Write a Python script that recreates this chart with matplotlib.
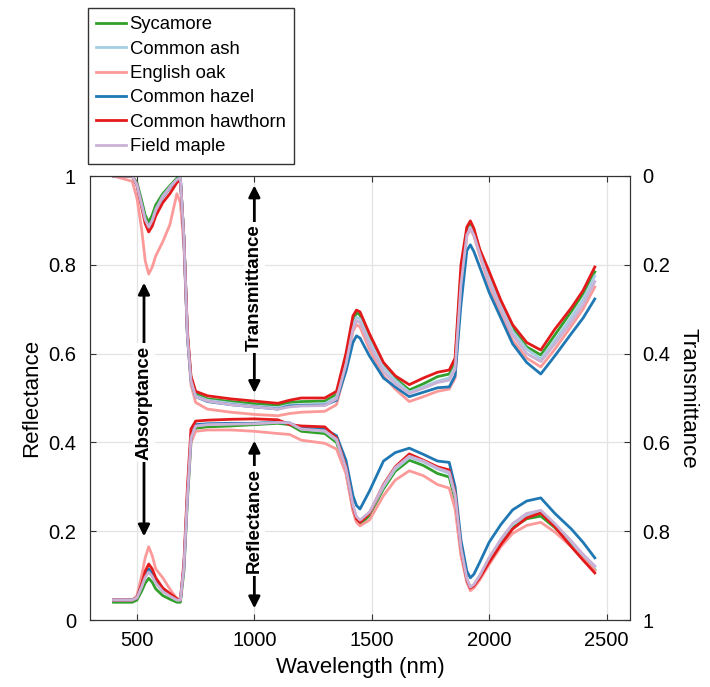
"""Reflectance and transmittance spectra of six tree species."""
import matplotlib
matplotlib.use('Agg')
import matplotlib.pyplot as plt

plt.rcParams['font.family'] = ['Liberation Sans', 'DejaVu Sans']

# wavelength samples (nm)
wavelength = [400, 480, 500, 520, 535, 550, 565, 580, 610, 640,
              670, 685, 700, 715, 730, 750, 800, 900, 1000, 1100,
              1150, 1200, 1300, 1350, 1390, 1420, 1435, 1450, 1490, 1550,
              1600, 1660, 1720, 1780, 1830, 1855, 1880, 1905, 1920, 1935,
              1960, 2000, 2050, 2100, 2160, 2220, 2280, 2350, 2400, 2450]

species = ['Sycamore', 'Common ash', 'English oak', 'Common hazel',
           'Common hawthorn', 'Field maple']
colors = ['#33a02c', '#a6cee3', '#fb9a99', '#1f78b4', '#e31a1c', '#cab2d6']

refl_sycamore = [0.040, 0.040, 0.045, 0.065, 0.083, 0.094, 0.085, 0.070, 0.055, 0.047,
                 0.040, 0.040, 0.110, 0.270, 0.400, 0.432, 0.435, 0.437, 0.440, 0.443,
                 0.440, 0.425, 0.420, 0.400, 0.335, 0.250, 0.222, 0.215, 0.235, 0.295,
                 0.335, 0.360, 0.348, 0.330, 0.322, 0.270, 0.155, 0.090, 0.072, 0.078,
                 0.097, 0.135, 0.175, 0.208, 0.228, 0.234, 0.208, 0.170, 0.140, 0.113]
refl_ash = [0.045, 0.045, 0.050, 0.075, 0.098, 0.110, 0.100, 0.085, 0.065, 0.055,
            0.045, 0.045, 0.120, 0.280, 0.410, 0.438, 0.440, 0.442, 0.443, 0.446,
            0.445, 0.430, 0.425, 0.405, 0.340, 0.255, 0.230, 0.222, 0.240, 0.300,
            0.340, 0.366, 0.356, 0.340, 0.330, 0.280, 0.160, 0.092, 0.073, 0.079,
            0.100, 0.140, 0.180, 0.215, 0.237, 0.245, 0.215, 0.175, 0.145, 0.120]
refl_oak = [0.045, 0.045, 0.055, 0.100, 0.140, 0.165, 0.145, 0.115, 0.095, 0.070,
            0.048, 0.045, 0.120, 0.280, 0.400, 0.425, 0.428, 0.428, 0.425, 0.420,
            0.418, 0.405, 0.398, 0.385, 0.330, 0.245, 0.220, 0.212, 0.225, 0.280,
            0.315, 0.336, 0.325, 0.305, 0.297, 0.250, 0.145, 0.085, 0.066, 0.072,
            0.090, 0.125, 0.165, 0.195, 0.213, 0.220, 0.198, 0.165, 0.138, 0.112]
refl_hazel = [0.045, 0.045, 0.050, 0.080, 0.103, 0.115, 0.105, 0.088, 0.068, 0.057,
              0.047, 0.045, 0.120, 0.280, 0.410, 0.440, 0.442, 0.443, 0.443, 0.445,
              0.443, 0.432, 0.430, 0.415, 0.360, 0.280, 0.258, 0.250, 0.290, 0.358,
              0.377, 0.387, 0.373, 0.358, 0.355, 0.300, 0.180, 0.110, 0.095, 0.103,
              0.130, 0.175, 0.215, 0.248, 0.268, 0.275, 0.240, 0.205, 0.175, 0.140]
refl_hawthorn = [0.045, 0.045, 0.050, 0.080, 0.110, 0.126, 0.115, 0.095, 0.072, 0.060,
                 0.048, 0.045, 0.130, 0.300, 0.430, 0.448, 0.450, 0.452, 0.453, 0.451,
                 0.440, 0.437, 0.435, 0.410, 0.345, 0.255, 0.228, 0.220, 0.240, 0.305,
                 0.345, 0.374, 0.360, 0.345, 0.338, 0.285, 0.160, 0.090, 0.072, 0.077,
                 0.095, 0.130, 0.170, 0.205, 0.230, 0.241, 0.210, 0.165, 0.135, 0.106]
refl_maple = [0.045, 0.045, 0.050, 0.075, 0.096, 0.108, 0.098, 0.083, 0.064, 0.054,
              0.045, 0.045, 0.120, 0.280, 0.410, 0.437, 0.440, 0.441, 0.442, 0.445,
              0.444, 0.430, 0.426, 0.407, 0.342, 0.258, 0.233, 0.225, 0.243, 0.303,
              0.343, 0.369, 0.358, 0.342, 0.333, 0.282, 0.162, 0.093, 0.074, 0.080,
              0.100, 0.140, 0.182, 0.217, 0.240, 0.247, 0.217, 0.178, 0.148, 0.122]

trans_sycamore = [0.000, 0.000, 0.015, 0.055, 0.088, 0.104, 0.088, 0.065, 0.040, 0.022,
                  0.005, 0.004, 0.140, 0.360, 0.455, 0.490, 0.502, 0.508, 0.513, 0.516,
                  0.510, 0.508, 0.507, 0.492, 0.410, 0.325, 0.308, 0.313, 0.360, 0.425,
                  0.455, 0.482, 0.468, 0.452, 0.446, 0.420, 0.220, 0.125, 0.110, 0.125,
                  0.168, 0.225, 0.285, 0.343, 0.385, 0.403, 0.358, 0.305, 0.265, 0.216]
trans_ash = [0.000, 0.000, 0.020, 0.065, 0.098, 0.115, 0.100, 0.075, 0.045, 0.025,
             0.008, 0.005, 0.140, 0.360, 0.460, 0.495, 0.505, 0.512, 0.518, 0.522,
             0.516, 0.515, 0.513, 0.498, 0.420, 0.335, 0.318, 0.322, 0.370, 0.430,
             0.460, 0.487, 0.475, 0.462, 0.455, 0.430, 0.240, 0.130, 0.115, 0.130,
             0.170, 0.230, 0.290, 0.350, 0.390, 0.412, 0.370, 0.318, 0.278, 0.225]
trans_oak = [0.000, 0.012, 0.050, 0.120, 0.190, 0.221, 0.205, 0.180, 0.148, 0.110,
             0.040, 0.060, 0.160, 0.360, 0.470, 0.510, 0.525, 0.532, 0.537, 0.540,
             0.535, 0.532, 0.530, 0.515, 0.435, 0.350, 0.335, 0.340, 0.390, 0.450,
             0.480, 0.508, 0.497, 0.485, 0.480, 0.455, 0.260, 0.135, 0.120, 0.135,
             0.180, 0.245, 0.310, 0.370, 0.410, 0.430, 0.390, 0.338, 0.300, 0.250]
trans_hazel = [0.000, 0.000, 0.020, 0.065, 0.098, 0.115, 0.100, 0.078, 0.048, 0.027,
               0.009, 0.006, 0.140, 0.360, 0.460, 0.497, 0.508, 0.515, 0.520, 0.525,
               0.518, 0.517, 0.516, 0.505, 0.440, 0.375, 0.360, 0.365, 0.405, 0.455,
               0.475, 0.497, 0.487, 0.477, 0.475, 0.450, 0.290, 0.168, 0.155, 0.170,
               0.205, 0.262, 0.320, 0.378, 0.420, 0.446, 0.405, 0.355, 0.320, 0.277]
trans_hawthorn = [0.000, 0.000, 0.020, 0.070, 0.107, 0.126, 0.113, 0.090, 0.060, 0.040,
                  0.015, 0.008, 0.140, 0.350, 0.450, 0.485, 0.495, 0.502, 0.507, 0.512,
                  0.505, 0.500, 0.500, 0.485, 0.400, 0.315, 0.302, 0.306, 0.355, 0.420,
                  0.450, 0.470, 0.455, 0.442, 0.437, 0.410, 0.200, 0.115, 0.101, 0.118,
                  0.165, 0.215, 0.280, 0.335, 0.375, 0.392, 0.345, 0.297, 0.258, 0.205]
trans_maple = [0.000, 0.000, 0.020, 0.065, 0.098, 0.115, 0.100, 0.077, 0.047, 0.026,
               0.008, 0.005, 0.140, 0.360, 0.460, 0.497, 0.507, 0.515, 0.520, 0.525,
               0.520, 0.518, 0.517, 0.502, 0.425, 0.345, 0.326, 0.330, 0.380, 0.440,
               0.468, 0.490, 0.478, 0.465, 0.460, 0.435, 0.245, 0.133, 0.118, 0.133,
               0.175, 0.238, 0.300, 0.358, 0.400, 0.418, 0.378, 0.328, 0.290, 0.238]

refl = [refl_sycamore, refl_ash, refl_oak, refl_hazel, refl_hawthorn, refl_maple]
trans = [trans_sycamore, trans_ash, trans_oak, trans_hazel, trans_hawthorn, trans_maple]

ticks_x = [500, 1000, 1500, 2000, 2500]
ticks_y = [0, 0.2, 0.4, 0.6, 0.8, 1]
tick_labels_y = ['0', '0.2', '0.4', '0.6', '0.8', '1']

fig = plt.figure(figsize=(7.1, 6.87), dpi=100)
ax = fig.add_axes([90 / 710, 67 / 687, 540 / 710, 444 / 687])
ax2 = ax.twinx()

# reflectance on the left axis, transmittance on the inverted right axis
handles = []
for name, c, r, t in zip(species, colors, refl, trans):
    h, = ax.plot(wavelength, r, color=c, lw=2, label=name, solid_joinstyle='round')
    ax2.plot(wavelength, t, color=c, lw=2, solid_joinstyle='round')
    handles.append(h)

ax.set_xlim(300, 2600)
ax.set_ylim(0, 1)
ax2.set_ylim(1, 0)
ax.set_xticks(ticks_x)
ax.set_yticks(ticks_y)
ax.set_yticklabels(tick_labels_y)
ax2.set_yticks(ticks_y)
ax2.set_yticklabels(tick_labels_y)

ax.grid(True, color='#e3e3e3', lw=0.9)
ax.tick_params(direction='in', length=4, labelsize=14.5, top=True, color='#333333')
ax.tick_params(axis='y', pad=10)
ax.tick_params(axis='x', pad=8)
ax2.tick_params(direction='in', length=4, labelsize=14.5, color='#333333', pad=9)
for a in (ax, ax2):
    for s in a.spines.values():
        s.set_color('#333333')

ax.set_xlabel('Wavelength (nm)', fontsize=16, labelpad=5)
ax.set_ylabel('Reflectance', fontsize=16)
ax2.set_ylabel('Transmittance', fontsize=16, rotation=270, labelpad=20)

# annotated arrows (positions in reflectance units)
arrow_kw = dict(arrowstyle='<|-|>', color='black', lw=2, mutation_scale=17)
text_kw = dict(rotation=90, ha='center', va='center', fontsize=13.5,
               fontweight='bold', bbox=dict(fc='white', ec='none', pad=1.5))

ax2.annotate('', xy=(1000, 0.985), xytext=(1000, 0.505),
             xycoords=ax.transData, textcoords=ax.transData, arrowprops=arrow_kw)
ax2.text(1000, 0.748, 'Transmittance', transform=ax.transData, **text_kw)

ax2.annotate('', xy=(1000, 0.41), xytext=(1000, 0.02),
             xycoords=ax.transData, textcoords=ax.transData, arrowprops=arrow_kw)
ax2.text(1000, 0.223, 'Reflectance', transform=ax.transData, **text_kw)

ax2.annotate('', xy=(530, 0.766), xytext=(530, 0.182),
             xycoords=ax.transData, textcoords=ax.transData, arrowprops=arrow_kw)
ax2.text(530, 0.49, 'Absorptance', transform=ax.transData, **text_kw)

fig.legend(handles=handles, loc='upper left', bbox_to_anchor=(88 / 710, 1 - 8 / 687),
           borderaxespad=0, fontsize=13.3, frameon=True, fancybox=False,
           edgecolor='#333333', framealpha=1, handlelength=1.6,
           handletextpad=0.2, labelspacing=0.4, borderpad=0.45)

fig.savefig('out.png', dpi=100)
